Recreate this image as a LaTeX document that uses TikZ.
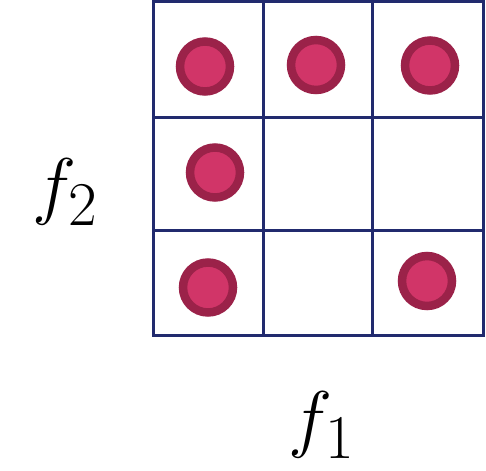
\documentclass[tikz,border=0pt]{standalone}
\usepackage{graphicx}
\begin{document}
\begin{tikzpicture}[x=1pt,y=-1pt,
  gridline/.style={draw=gridblue,line width=3pt},
  dot/.style={circle,draw=dotring,fill=dotfill,line width=8.5pt,minimum size=50pt,inner sep=0pt},
  lab/.style={inner sep=0pt}]
\definecolor{gridblue}{HTML}{212A6E}
\definecolor{dotring}{HTML}{9B2249}
\definecolor{dotfill}{HTML}{D13568}
\useasboundingbox (0,0) rectangle (486,470);
\draw[gridline] (153.5,1.5) rectangle (483.5,335);
\draw[gridline] (263.5,1.5) -- (263.5,335);
\draw[gridline] (372.5,1.5) -- (372.5,335);
\draw[gridline] (153.5,118) -- (483.5,118);
\draw[gridline] (153.5,230) -- (483.5,230);
\node[dot] (d1) at (205,66.5) {};
\node[dot] (d2) at (316,65) {};
\node[dot] (d3) at (430,65.5) {};
\node[dot] (d4) at (215,172.5) {};
\node[dot] (d5) at (208,287.5) {};
\node[dot] (d6) at (427,281) {};
\node[lab] (f2) at (66,192) {\scalebox{3}{\Huge$f_2$}};
\node[lab] (f1) at (322,425) {\scalebox{3}{\Huge$f_1$}};
\end{tikzpicture}
\end{document}
